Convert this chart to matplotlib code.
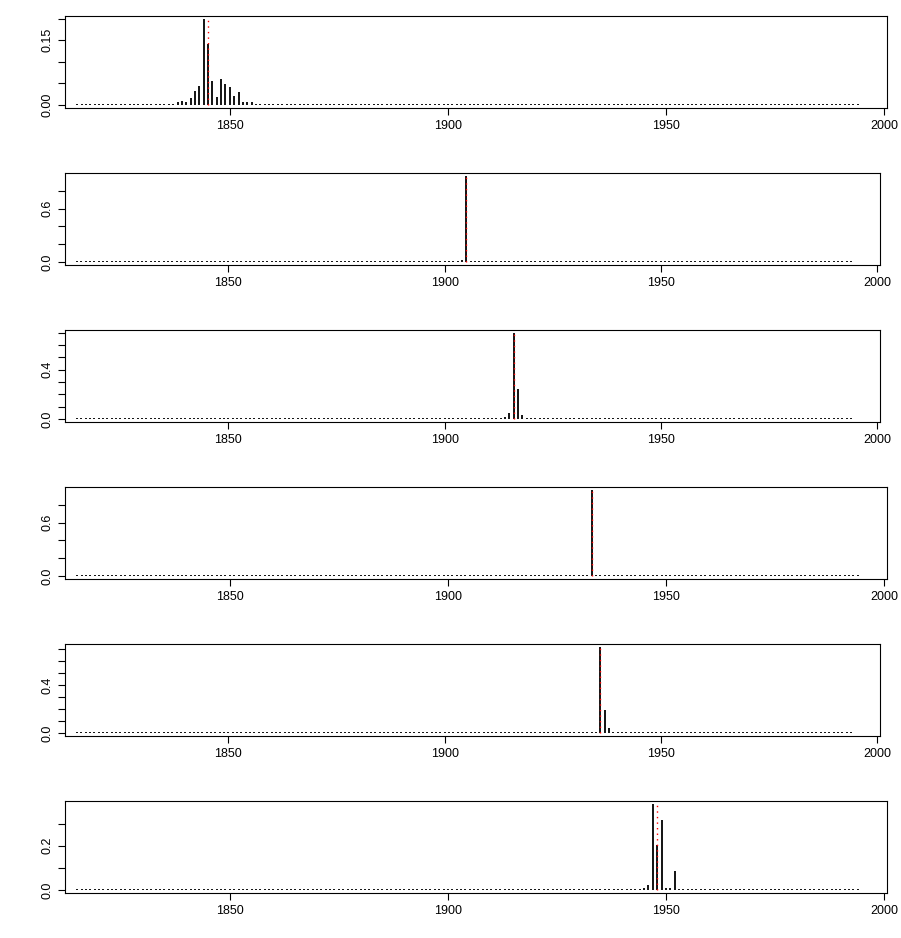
import numpy as np
import matplotlib.pyplot as plt

plt.rcParams['font.family'] = ['Liberation Sans', 'DejaVu Sans']

years = np.arange(1815, 1995)

# non-zero probabilities per panel (year: value); all other years carry a trace value
peaks_1 = {1838: 0.006, 1839: 0.010, 1840: 0.008, 1841: 0.015, 1842: 0.033, 1843: 0.044,
           1844: 0.200, 1845: 0.142, 1846: 0.056, 1847: 0.018, 1848: 0.061, 1849: 0.048,
           1850: 0.041, 1851: 0.021, 1852: 0.029, 1853: 0.006, 1854: 0.006, 1855: 0.006}
peaks_2 = {1903: 0.01, 1904: 0.025, 1905: 0.97}
peaks_3 = {1914: 0.02, 1915: 0.048, 1916: 0.70, 1917: 0.245, 1918: 0.03}
peaks_4 = {1933: 0.97}
peaks_5 = {1935: 0.01, 1936: 0.72, 1937: 0.195, 1938: 0.04}
peaks_6 = {1945: 0.008, 1946: 0.024, 1947: 0.39, 1948: 0.203, 1949: 0.315, 1950: 0.011,
           1951: 0.011, 1952: 0.087}
all_peaks = [peaks_1, peaks_2, peaks_3, peaks_4, peaks_5, peaks_6]
red_year = [1845, 1905, 1916, 1933, 1936, 1948]
trace = [0.002, 0.008, 0.006, 0.008, 0.006, 0.003]
y_ticks = [[0, 0.05, 0.10, 0.15, 0.20], [0, 0.2, 0.4, 0.6, 0.8], np.arange(0, 0.71, 0.1),
           [0, 0.2, 0.4, 0.6, 0.8], np.arange(0, 0.71, 0.1), [0, 0.1, 0.2, 0.3]]
y_labels = [{0: "0.00", 0.15: "0.15"}, {0: "0.0", 0.6: "0.6"}, {0: "0.0", 0.4: "0.4"},
            {0: "0.0", 0.6: "0.6"}, {0: "0.0", 0.4: "0.4"}, {0: "0.0", 0.2: "0.2"}]
x_ticks = [1850, 1900, 1950, 2000]

W, H = 901, 938
fig = plt.figure(figsize=(W / 100, H / 100), dpi=100)
tops = [16, 173, 330, 487, 644, 801]

for i, peaks in enumerate(all_peaks):
    right = 887 if i in (0, 3, 5) else 880
    ax = fig.add_axes([65 / W, 1 - (tops[i] + 92) / H, (right - 65) / W, 92 / H])
    vals = np.array([peaks.get(y, trace[i]) for y in years])
    ax.vlines(years, 0, vals, color='black', linewidth=1.3)
    ymax = vals.max()
    ax.vlines(red_year[i], 0, ymax, color='red', linestyle=(0, (1, 3)), linewidth=1)
    ax.set_xlim(1812.2, 2000.7)
    ax.set_ylim(-0.035 * ymax, 1.03 * ymax)
    ax.set_xticks(x_ticks)
    ax.set_xticklabels([str(t) for t in x_ticks])
    ax.set_yticks(y_ticks[i])
    labs = []
    for t in y_ticks[i]:
        key = [k for k in y_labels[i] if abs(k - t) < 1e-9]
        labs.append(y_labels[i][key[0]] if key else "")
    ax.set_yticklabels(labs, rotation=90, va='center')
    ax.tick_params(labelsize=9, length=5, width=0.8)
    for s in ax.spines.values():
        s.set_linewidth(0.8)

fig.savefig("out.png", dpi=100)
